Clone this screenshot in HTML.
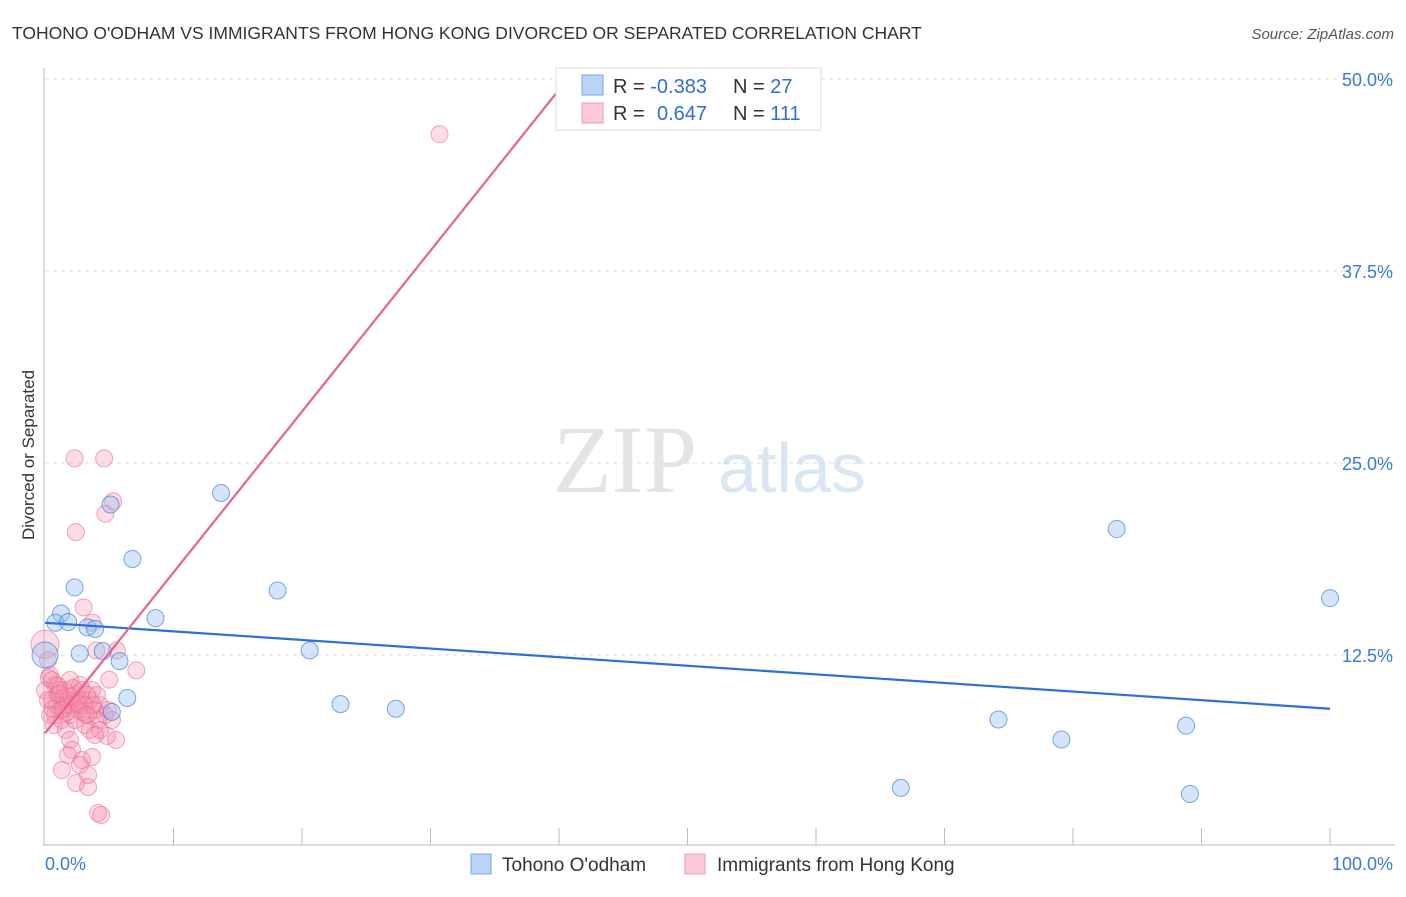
<!DOCTYPE html>
<html><head><meta charset="utf-8"><style>
body{margin:0;background:#fff;width:1406px;height:892px;overflow:hidden;font-family:"Liberation Sans",sans-serif}
</style></head><body>
<svg id="c" width="1406" height="892" xmlns="http://www.w3.org/2000/svg">
<text x="12" y="39" font-size="17.5" fill="#333">TOHONO O'ODHAM VS IMMIGRANTS FROM HONG KONG DIVORCED OR SEPARATED CORRELATION CHART</text>
<text x="1394" y="39" font-size="15" fill="#555" font-style="italic" text-anchor="end">Source: ZipAtlas.com</text>
<text x="34" y="455" font-size="17" fill="#333" text-anchor="middle" transform="rotate(-90 34 455)">Divorced or Separated</text>
<g><text x="553" y="492" font-family="Liberation Serif,serif" font-size="96" fill="#e4e4e4">ZIP</text><text x="718" y="492" font-size="70" fill="#dbe6f5">atlas</text></g>
<g id="grid"></g><g id="axes"></g><g id="pts"></g><g id="lines"></g>
<g>
<rect x="556" y="68" width="265" height="62" fill="#fff" stroke="#ddd"/>
<rect x="582" y="75" width="21" height="20" fill="#b9d4f7" stroke="#7aa6e6"/>
<rect x="582" y="103" width="21" height="20" fill="#fbc9d8" stroke="#ee9ab4"/>
<text x="613" y="93" font-size="20" fill="#333">R = <tspan fill="#2f6fd6">-0.383</tspan></text>
<text x="733" y="93" font-size="20" fill="#333">N = <tspan fill="#2f6fd6">27</tspan></text>
<text x="613" y="120" font-size="20" fill="#333">R = <tspan fill="#2f6fd6" x="657">0.647</tspan></text>
<text x="733" y="120" font-size="20" fill="#333">N = <tspan fill="#2f6fd6">111</tspan></text>
</g>
<g>
<rect x="471" y="854" width="20" height="20" fill="#b9d4f7" stroke="#7aa6e6"/>
<text x="502" y="871" font-size="19" fill="#333">Tohono O'odham</text>
<rect x="685" y="854" width="20" height="20" fill="#fbc9d8" stroke="#ee9ab4"/>
<text x="717" y="871" font-size="19" fill="#333">Immigrants from Hong Kong</text>
</g>
</svg>
<script>
const yTicks=[12.5,25,37.5,50];
const yTickLabels=["12.5%","25.0%","37.5%","50.0%"];
const xTickLabels=["0.0%","100.0%"];
const blueX=[13.7,83.4,100,18.1,6.8,2.3,1.25,0.8,1.8,3.3,3.9,8.6,2.7,4.5,5.8,20.6,6.4,5.2,23.0,27.3,74.2,79.1,88.8,66.6,89.1,0,5.1];
const blueY=[23.05,20.7,16.2,16.7,18.75,16.9,15.2,14.6,14.65,14.3,14.2,14.9,12.6,12.75,12.1,12.8,9.7,8.8,9.3,9.0,8.3,7.0,7.9,3.85,3.45,12.5,22.3];
const pinkX=[30.7,2.3,4.6,2.4,5.3,4.7,3.0,3.7,4.0,5.6,7.1,5.0,0,0.23,0.39,0,0.54,0.78,1.0,1.17,1.32,1.56,1.79,1.95,2.1,2.33,2.57,2.72,2.88,3.11,3.35,3.5,3.66,3.89,4.12,4.28,0.78,1.17,1.56,1.95,2.33,2.72,3.11,3.5,0.54,0.93,1.4,1.71,2.18,2.49,2.96,3.27,3.74,4.05,0.23,0.39,0.7,1.63,4.28,4.67,4.9,5.21,5.53,4.82,3.89,1.95,2.1,1.79,2.88,3.66,2.72,3.35,2.41,3.35,4.12,4.36,1.32,0.3,0.6,1.0,2.0,2.6,3.2,1.4,1.1];
const pinkY=[46.4,25.3,25.3,20.5,22.5,21.7,15.6,14.6,12.8,12.8,11.5,10.9,13.2,12.17,11.2,10.2,9.57,10.55,9.9,8.92,8.27,10.22,9.57,8.59,9.24,9.9,8.92,9.57,10.22,9.24,8.59,9.57,10.22,8.92,8.27,9.24,8.59,10.22,9.24,10.87,8.27,10.55,7.94,7.62,10.87,9.24,9.7,8.79,10.35,9.44,8.79,9.9,9.24,9.9,9.57,8.59,7.94,7.62,7.62,8.59,8.92,8.27,6.97,7.23,7.29,6.97,6.32,5.99,5.66,5.86,5.34,4.69,4.17,3.91,2.21,2.08,5.01,11.0,9.0,10.5,9.8,9.3,8.6,9.0,10.0];
const blueFit=[14.6,9.0];
const pinkFit=[7.4,49.3]; // at x=0 and x=40
const X=v=>45+v*12.85, Y=v=>847-v*15.36;
const NS="http://www.w3.org/2000/svg";
function mk(p,t,a){const e=document.createElementNS(NS,t);for(const k in a)e.setAttribute(k,a[k]);document.getElementById(p).appendChild(e);return e;}
yTicks.forEach((t,i)=>{
 const g=mk('grid','line',{x1:45,x2:1395,y1:Y(t),y2:Y(t),stroke:'#ddd','stroke-dasharray':'4 4'});
 
 
 const l=mk('grid','text',{x:1393,y:Y(t)+7,'font-size':18,fill:'#3a78d8','text-anchor':'end'});
 l.textContent=yTickLabels[i];
 
 
});
const ya=mk('axes','line',{x1:44,x2:44,y1:68,y2:846,stroke:'#bbb'});


const xa=mk('axes','line',{x1:44,x2:1395,y1:845,y2:845,stroke:'#bbb'});


for(let k=1;k<=10;k++){const t=mk('axes','line',{x1:X(k*10),x2:X(k*10),y1:828,y2:845,stroke:'#bbb'});
 
 }
[[0,'start',45],[100,'end',1393]].forEach((d,i)=>{const t=mk('axes','text',{x:d[2],y:870,'font-size':18,fill:'#3a78d8','text-anchor':d[1]});t.textContent=xTickLabels[i];
 
 });
pinkX.forEach((x,i)=>{const c=mk('pts','circle',{cx:X(x),cy:Y(pinkY[i]),r:(x===0&&pinkY[i]>13)?14:8.5,fill:'rgba(244,140,170,0.3)',stroke:'rgba(232,110,150,0.6)'});
 
 });
blueX.forEach((x,i)=>{const c=mk('pts','circle',{cx:X(x),cy:Y(blueY[i]),r:x===0?13:8.5,fill:'rgba(150,190,240,0.4)',stroke:'rgba(70,130,215,0.7)'});
 
 });
const bl=mk('lines','line',{x1:X(0),y1:Y(blueFit[0]),x2:X(100),y2:Y(blueFit[1]),stroke:'#2d6fd8','stroke-width':2.2});


const pl=mk('lines','line',{x1:X(0),y1:Y(pinkFit[0]),x2:X(40),y2:Y(pinkFit[1]),stroke:'#e8628f','stroke-width':2.2});


</script>
</body></html>
